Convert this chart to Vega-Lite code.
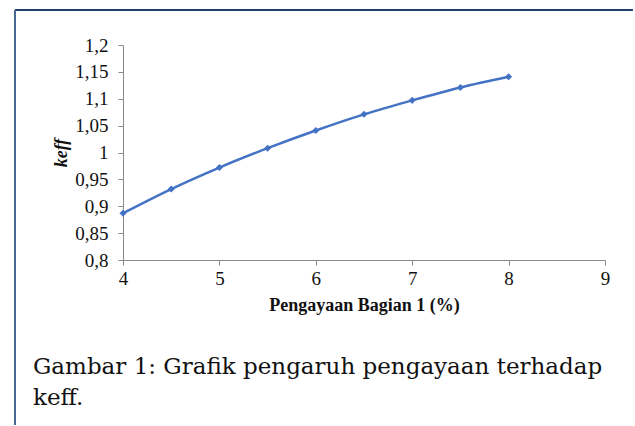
{
  "$schema": "https://vega.github.io/schema/vega-lite/v6.json",
  "width": 482,
  "height": 215,
  "padding": {"left": 14, "top": 8, "right": 0, "bottom": 0},
  "background": "white",
  "config": {
    "font": "Liberation Serif",
    "view": {"stroke": null},
    "axis": {
      "grid": false,
      "domainColor": "#898989",
      "tickColor": "#898989",
      "tickSize": 5,
      "labelFont": "Liberation Serif",
      "labelFontSize": 19,
      "labelColor": "#111111",
      "labelFlush": false,
      "titleFont": "Liberation Serif",
      "titleColor": "#111111",
      "titleFontWeight": "bold"
    }
  },
  "title": {
    "text": ["Gambar 1: Grafik pengaruh pengayaan terhadap", "keff."],
    "orient": "bottom",
    "anchor": "start",
    "frame": "group",
    "baseline": "alphabetic",
    "offset": -52,
    "dx": -90,
    "font": "DejaVu Serif",
    "fontSize": 23,
    "fontWeight": "normal",
    "lineHeight": 31,
    "color": "#111111"
  },
  "layer": [
    {
      "data": {
        "values": [
          {"pengayaan": 4.0, "keff": 0.887},
          {"pengayaan": 4.5, "keff": 0.932},
          {"pengayaan": 5.0, "keff": 0.972},
          {"pengayaan": 5.5, "keff": 1.008},
          {"pengayaan": 6.0, "keff": 1.041},
          {"pengayaan": 6.5, "keff": 1.071},
          {"pengayaan": 7.0, "keff": 1.097},
          {"pengayaan": 7.5, "keff": 1.121},
          {"pengayaan": 8.0, "keff": 1.141}
        ]
      },
      "mark": {
        "type": "line",
        "color": "#4472C4",
        "strokeWidth": 2.5,
        "interpolate": "monotone",
        "point": {"shape": "diamond", "size": 50, "filled": true, "color": "#4472C4"}
      },
      "encoding": {
        "x": {
          "field": "pengayaan",
          "type": "quantitative",
          "scale": {"domain": [4, 9], "nice": false},
          "axis": {"title": "Pengayaan Bagian 1 (%)", "values": [4, 5, 6, 7, 8, 9], "format": "d", "labelFont": "Liberation Serif", "labelFlush": false, "labelPadding": 4, "titleFontSize": 18, "titlePadding": 8}
        },
        "y": {
          "field": "keff",
          "type": "quantitative",
          "scale": {"domain": [0.8, 1.2], "nice": false, "zero": false},
          "axis": {"title": "keff", "values": [0.8, 0.85, 0.9, 0.95, 1.0, 1.05, 1.1, 1.15, 1.2], "labelExpr": "replace(format(datum.value, '.2~f'), '.', ',')", "labelFont": "Liberation Serif", "labelPadding": 10, "titleFontSize": 18, "titleFontStyle": "italic", "titlePadding": 4}
        }
      }
    },
    {
      "data": {"values": [{"part": "top"}]},
      "mark": {"type": "rule", "color": "#1f3d66", "strokeWidth": 2, "clip": false},
      "encoding": {
        "x": {"datum": 2.8797, "type": "quantitative",
          "axis": {"title": "Pengayaan Bagian 1 (%)", "values": [4, 5, 6, 7, 8, 9], "format": "d", "labelFont": "Liberation Serif", "labelFlush": false, "labelPadding": 4, "titleFontSize": 18, "titlePadding": 8}},
        "x2": {"datum": 9.29},
        "y": {"datum": 1.26512, "type": "quantitative",
          "axis": {"title": "keff", "values": [0.8, 0.85, 0.9, 0.95, 1.0, 1.05, 1.1, 1.15, 1.2], "labelExpr": "replace(format(datum.value, '.2~f'), '.', ',')", "labelFont": "Liberation Serif", "labelPadding": 10, "titleFontSize": 18, "titleFontStyle": "italic", "titlePadding": 4}}
      }
    },
    {
      "data": {"values": [{"part": "left"}]},
      "mark": {"type": "rule", "color": "#4a6890", "strokeWidth": 2, "clip": false},
      "encoding": {
        "x": {"datum": 2.8797, "type": "quantitative",
          "axis": {"title": "Pengayaan Bagian 1 (%)", "values": [4, 5, 6, 7, 8, 9], "format": "d", "labelFont": "Liberation Serif", "labelFlush": false, "labelPadding": 4, "titleFontSize": 18, "titlePadding": 8}},
        "y": {"datum": 1.26512, "type": "quantitative",
          "axis": {"title": "keff", "values": [0.8, 0.85, 0.9, 0.95, 1.0, 1.05, 1.1, 1.15, 1.2], "labelExpr": "replace(format(datum.value, '.2~f'), '.', ',')", "labelFont": "Liberation Serif", "labelPadding": 10, "titleFontSize": 18, "titleFontStyle": "italic", "titlePadding": 4}},
        "y2": {"datum": 0.4930}
      }
    }
  ]
}
